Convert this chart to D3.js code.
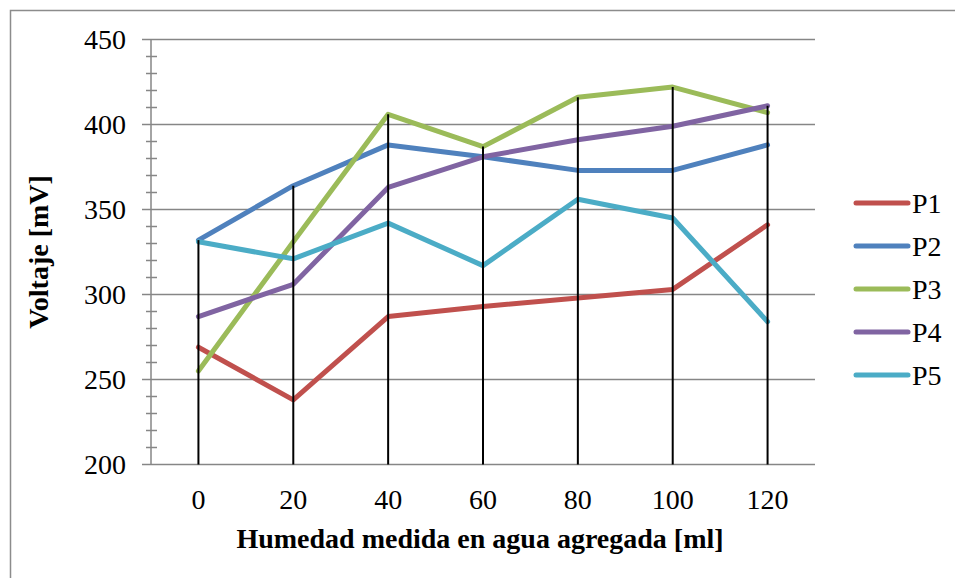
<!DOCTYPE html>
<html>
<head>
<meta charset="utf-8">
<script src="https://cdn.jsdelivr.net/npm/d3@7"></script>
<style>
  body { margin: 0; background: #fff; }
  svg text { font-family: "Liberation Serif", serif; fill: #000; }
</style>
</head>
<body>
<div id="chart"></div>
<script>
// categorias (agua agregada en ml)
const categorias = ["0", "20", "40", "60", "80", "100", "120"];
const nombres = ["P1", "P2", "P3", "P4", "P5"];
const colores = ["#C0504D", "#4F81BD", "#9BBB59", "#8064A2", "#4BACC6"];

// voltajes [mV]
const p1 = [269, 238, 287, 293, 298, 303, 341];
const p2 = [332, 364, 388, 381, 373, 373, 388];
const p3 = [255, 331, 406, 387, 416, 422, 407];
const p4 = [287, 306, 363, 381, 391, 399, 411];
const p5 = [331, 321, 342, 317, 356, 345, 284];

const ticksY = [200, 250, 300, 350, 400, 450];

const series = [p1, p2, p3, p4, p5];

const width = 955, height = 578;

const svg = d3.select("#chart").append("svg")
    .attr("width", width)
    .attr("height", height);

// marco exterior
svg.append("rect")
    .attr("x", 10.5).attr("y", 10.5)
    .attr("width", 960).attr("height", 600)
    .attr("fill", "none")
    .attr("stroke", "#8c8c8c")
    .attr("stroke-width", 1.5);

const echelleX = d3.scalePoint()
    .domain(categorias)
    .range([151, 815])
    .padding(0.5);

const echelleY = d3.scaleLinear()
    .domain([200, 450])
    .range([464.5, 39.5]);

// grilla horizontal
svg.append("g").selectAll("line")
    .data(ticksY)
    .join("line")
    .attr("x1", 142).attr("x2", 815)
    .attr("y1", d => echelleY(d)).attr("y2", d => echelleY(d))
    .attr("stroke", "#868686")
    .attr("stroke-width", 1.5);

// ticks menores
const menores = d3.range(200, 451, 10).filter(d => d % 50 != 0);
svg.append("g").selectAll("line")
    .data(menores)
    .join("line")
    .attr("x1", 146).attr("x2", 157)
    .attr("y1", d => echelleY(d)).attr("y2", d => echelleY(d))
    .attr("stroke", "#868686")
    .attr("stroke-width", 1.5);

// eje y
svg.append("line")
    .attr("x1", 151).attr("x2", 151)
    .attr("y1", echelleY(450)).attr("y2", echelleY(200))
    .attr("stroke", "#868686")
    .attr("stroke-width", 1.5);

// etiquetas eje y
svg.append("g").selectAll("text")
    .data(ticksY)
    .join("text")
    .attr("x", 126)
    .attr("y", d => echelleY(d) + 9)
    .attr("text-anchor", "end")
    .style("font-size", "28px")
    .text(d => d);

// etiquetas eje x
svg.append("g").selectAll("text")
    .data(categorias)
    .join("text")
    .attr("x", d => echelleX(d))
    .attr("y", 509)
    .attr("text-anchor", "middle")
    .style("font-size", "28px")
    .text(d => d);

// lineas de las series
const linea = d3.line()
    .x((d, i) => echelleX(categorias[i]))
    .y(d => echelleY(d));

svg.append("g").selectAll("path")
    .data(series)
    .join("path")
    .attr("d", d => linea(d))
    .attr("fill", "none")
    .attr("stroke", (d, i) => colores[i])
    .attr("stroke-width", 5)
    .attr("stroke-linejoin", "round")
    .attr("stroke-linecap", "round");

// lineas de caida (del maximo al eje)
svg.append("g").selectAll("line")
    .data(categorias)
    .join("line")
    .attr("x1", d => echelleX(d)).attr("x2", d => echelleX(d))
    .attr("y1", (d, i) => echelleY(d3.max(series, s => s[i])))
    .attr("y2", echelleY(200))
    .attr("stroke", "#000")
    .attr("stroke-width", 2);

// titulos
svg.append("text")
    .attr("x", 480)
    .attr("y", 548)
    .attr("text-anchor", "middle")
    .style("font-size", "28px")
    .style("font-weight", "bold")
    .text("Humedad medida en agua agregada [ml]");

svg.append("text")
    .attr("transform", "translate(48,252) rotate(-90)")
    .attr("text-anchor", "middle")
    .style("font-size", "28px")
    .style("font-weight", "bold")
    .text("Voltaje [mV]");

// leyenda
const leyenda = svg.append("g").selectAll("g")
    .data(nombres)
    .join("g")
    .attr("transform", (d, i) => "translate(0," + (203 + i * 43) + ")");

leyenda.append("line")
    .attr("x1", 856).attr("x2", 908)
    .attr("stroke", (d, i) => colores[i])
    .attr("stroke-width", 5)
    .attr("stroke-linecap", "round");

leyenda.append("text")
    .attr("x", 912)
    .attr("y", 10)
    .style("font-size", "28px")
    .text(d => d);
</script>
</body>
</html>
